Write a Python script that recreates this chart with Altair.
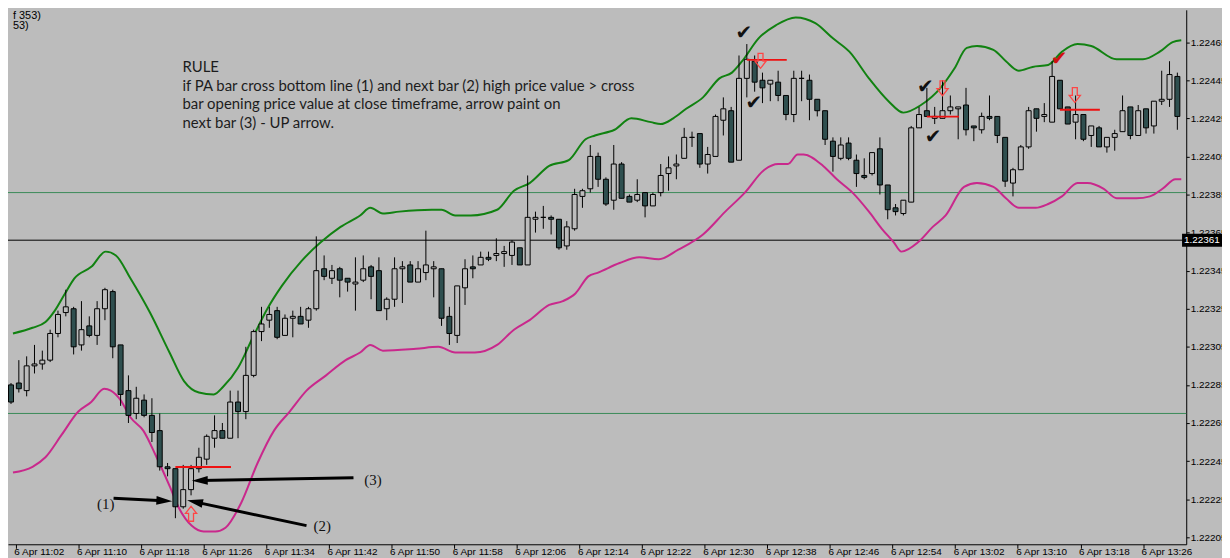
import math
import altair as alt
import pandas as pd

# ---------------- data (prices in points, 1 point = 0.00001) ----------------
candle_index = list(range(-1, 149))  # minutes after 11:02 (0 = 11:02)

open_pts = [
    122285, 122286, 122282, 122295, 122296, 122298, 122312, 122323, 122325, 122306,
    122316, 122311, 122325, 122334, 122306, 122282, 122270, 122277, 122269, 122261,
    122242, 122241, 122221, 122230, 122241, 122246, 122257, 122261, 122257, 122276,
    122271, 122290, 122313, 122319, 122324, 122311, 122320, 122321, 122319, 122325,
    122346, 122341, 122346, 122341, 122338, 122340, 122347, 122345, 122325, 122330,
    122346, 122348, 122339, 122344, 122346, 122346, 122321, 122311, 122336, 122347,
    122348, 122352, 122353, 122354, 122353, 122357, 122348, 122372, 122373, 122373,
    122372, 122358, 122367, 122384, 122388, 122405, 122393, 122382, 122401, 122384,
    122382, 122386, 122379, 122386, 122396, 122400, 122404, 122415, 122417, 122401,
    122405, 122424, 122429, 122403, 122446, 122455, 122445, 122443, 122444, 122437,
    122427, 122446, 122445, 122435, 122429, 122413, 122404, 122412, 122403, 122395,
    122396, 122409, 122390, 122378, 122375, 122381, 122420, 122429, 122425, 122425,
    122429, 122430, 122432, 122421, 122419, 122426, 122426, 122415, 122391, 122398,
    122410, 122430, 122426, 122423, 122445, 122431, 122423, 122427, 122416, 122420,
    122410, 122415, 122418, 122431, 122416, 122430, 122421, 122434, 122435, 122447,
]
high_pts = [
    122286, 122298, 122300, 122306, 122303, 122314, 122324, 122335, 122326, 122329,
    122321, 122329, 122336, 122335, 122306, 122290, 122284, 122280, 122278, 122270,
    122244, 122241, 122243, 122243, 122252, 122259, 122269, 122265, 122282, 122282,
    122305, 122314, 122326, 122326, 122326, 122322, 122324, 122326, 122326, 122363,
    122353, 122348, 122347, 122341, 122352, 122353, 122348, 122352, 122331, 122352,
    122350, 122350, 122350, 122366, 122350, 122346, 122326, 122337, 122351, 122353,
    122355, 122355, 122362, 122358, 122361, 122357, 122395, 122376, 122379, 122374,
    122372, 122371, 122388, 122388, 122411, 122407, 122394, 122411, 122402, 122385,
    122393, 122386, 122386, 122401, 122405, 122406, 122420, 122418, 122417, 122410,
    122427, 122436, 122431, 122458, 122464, 122458, 122449, 122445, 122450, 122437,
    122450, 122450, 122448, 122435, 122429, 122415, 122415, 122415, 122406, 122404,
    122407, 122415, 122390, 122380, 122382, 122421, 122431, 122441, 122431, 122445,
    122437, 122431, 122441, 122421, 122428, 122437, 122426, 122415, 122399, 122411,
    122431, 122430, 122433, 122455, 122445, 122431, 122437, 122427, 122421, 122421,
    122415, 122419, 122437, 122431, 122432, 122430, 122434, 122450, 122455, 122449,
]
low_pts = [
    122275, 122281, 122279, 122291, 122293, 122297, 122310, 122321, 122301, 122303,
    122310, 122306, 122319, 122299, 122274, 122265, 122267, 122268, 122255, 122240,
    122237, 122215, 122220, 122227, 122239, 122243, 122252, 122257, 122257, 122257,
    122267, 122289, 122308, 122315, 122309, 122311, 122310, 122317, 122315, 122324,
    122340, 122338, 122331, 122334, 122324, 122339, 122330, 122324, 122319, 122326,
    122328, 122339, 122339, 122340, 122331, 122316, 122306, 122307, 122327, 122341,
    122348, 122350, 122350, 122347, 122348, 122348, 122348, 122365, 122367, 122364,
    122356, 122356, 122366, 122378, 122386, 122389, 122379, 122377, 122383, 122381,
    122381, 122373, 122379, 122384, 122387, 122393, 122404, 122410, 122399, 122396,
    122405, 122416, 122402, 122403, 122436, 122439, 122433, 122434, 122434, 122424,
    122423, 122434, 122424, 122426, 122411, 122397, 122403, 122403, 122389, 122393,
    122395, 122385, 122372, 122374, 122374, 122381, 122420, 122426, 122422, 122425,
    122427, 122414, 122416, 122413, 122417, 122424, 122412, 122389, 122384, 122398,
    122409, 122418, 122423, 122423, 122430, 122422, 122414, 122413, 122410, 122410,
    122407, 122408, 122418, 122414, 122416, 122417, 122417, 122432, 122431, 122419,
]
close_pts = [
    122276, 122283, 122295, 122296, 122298, 122312, 122322, 122326, 122305, 122314,
    122311, 122325, 122335, 122305, 122280, 122269, 122278, 122269, 122260, 122242,
    122241, 122221, 122230, 122241, 122247, 122258, 122261, 122257, 122276, 122271,
    122290, 122313, 122317, 122322, 122310, 122320, 122321, 122317, 122325, 122345,
    122342, 122345, 122340, 122339, 122339, 122346, 122342, 122324, 122330, 122346,
    122347, 122339, 122346, 122348, 122347, 122320, 122312, 122337, 122346, 122346,
    122352, 122351, 122354, 122355, 122360, 122348, 122373, 122373, 122373, 122372,
    122357, 122368, 122385, 122387, 122405, 122393, 122380, 122401, 122383, 122381,
    122385, 122379, 122385, 122395, 122399, 122401, 122415, 122415, 122401, 122406,
    122426, 122430, 122402, 122446, 122456, 122444, 122441, 122445, 122437, 122427,
    122446, 122446, 122435, 122429, 122414, 122405, 122411, 122404, 122396, 122394,
    122407, 122390, 122377, 122376, 122382, 122420, 122427, 122426, 122426, 122429,
    122431, 122431, 122419, 122420, 122426, 122425, 122416, 122392, 122398, 122410,
    122429, 122425, 122427, 122447, 122430, 122422, 122427, 122414, 122421, 122410,
    122415, 122417, 122429, 122416, 122429, 122420, 122434, 122435, 122448, 122426,
]

# envelope lines read at sample positions
upper_x = [-0.75, 1.75, 3.4, 4.6, 5.9, 7.1, 9.25, 11.1, 12.4, 14.25, 16.75, 19.25, 21.1, 23, 24.9,
           26.1, 28, 29.9, 31.75, 33.6, 36.1, 38.6, 41.1, 43.6, 44.9, 46.5, 48.6, 52.75, 54, 55.75,
           57.75, 61.1, 63.25, 65.25, 67.75, 70.25, 72.4, 73.6, 76.1, 78.25, 80.75, 82, 83.6, 85.25,
           87.4, 89.5, 91.1, 92.4, 94.5, 96.75, 99.25, 101.75, 104, 106.1, 108.6, 111.1, 113, 115.25,
           117.75, 119.5, 121.1, 122.4, 124.5, 126.1, 127.75, 129.5, 131.5, 133.25, 135.25, 137,
           140.25, 143.6, 145.75, 147.4, 148.5]
upper_pts = [122312, 122315, 122318, 122324, 122333, 122341, 122347, 122355, 122353, 122341, 122323,
             122302, 122287, 122281, 122280, 122284, 122294, 122310, 122325, 122337, 122350, 122360,
             122368, 122374, 122378, 122375, 122376, 122377, 122377, 122374, 122374, 122377, 122387,
             122391, 122400, 122403, 122414, 122416, 122419, 122425, 122423, 122422, 122425, 122430,
             122436, 122446, 122449, 122455, 122467, 122474, 122478, 122475, 122467, 122460, 122446,
             122434, 122428, 122432, 122441, 122451, 122462, 122463, 122461, 122455, 122450, 122452,
             122453, 122460, 122464, 122463, 122456, 122456, 122460, 122465, 122466]
lower_x = [-0.75, 1.75, 3.4, 5.5, 7.6, 9.25, 10.9, 11.75, 13, 14.25, 15.9, 17.6, 19.25, 20.5, 22.1,
           23.6, 25.1, 26.4, 28.4, 30.5, 32.6, 34.6, 36.75, 39.25, 41.75, 43.6, 44.9, 46.5, 50.75,
           53.6, 55.75, 58.25, 61.1, 63.25, 65.25, 67.75, 69.5, 71.1, 72.75, 74, 76.75, 79.25, 81.75,
           84.25, 87.4, 90.25, 92.75, 95.25, 97, 98.25, 99.5, 100.25, 102.75, 104.5, 106.5, 108.6,
           110.25, 111.75, 112.75, 114.9, 116.75, 118.4, 120.75, 122.4, 124.5, 126.1, 127.75, 129.9,
           131.5, 133.25, 135.25, 136.5, 138.6, 140.25, 142.75, 144.5, 146.1, 147.75, 148.5]
lower_pts = [122239, 122242, 122247, 122259, 122271, 122276, 122283, 122282, 122277, 122268, 122261,
             122247, 122232, 122220, 122211, 122208, 122208, 122210, 122223, 122244, 122261, 122271,
             122282, 122290, 122298, 122302, 122306, 122303, 122304, 122305, 122302, 122302, 122306,
             122314, 122319, 122327, 122329, 122333, 122342, 122344, 122349, 122352, 122351, 122356,
             122364, 122376, 122386, 122398, 122401, 122401, 122406, 122406, 122400, 122393, 122386,
             122376, 122367, 122360, 122355, 122360, 122368, 122374, 122389, 122391, 122389, 122383,
             122378, 122378, 122380, 122384, 122391, 122391, 122388, 122383, 122383, 122384, 122388,
             122393, 122393]

tick_index = [0, 8, 16, 24, 32, 40, 48, 56, 64, 72, 80, 88, 96, 104, 112, 120, 128, 136, 144]
tick_labels = ["6 Apr 11:02", "6 Apr 11:10", "6 Apr 11:18", "6 Apr 11:26", "6 Apr 11:34",
               "6 Apr 11:42", "6 Apr 11:50", "6 Apr 11:58", "6 Apr 12:06", "6 Apr 12:14",
               "6 Apr 12:22", "6 Apr 12:30", "6 Apr 12:38", "6 Apr 12:46", "6 Apr 12:54",
               "6 Apr 13:02", "6 Apr 13:10", "6 Apr 13:18", "6 Apr 13:26"]
price_ticks = [1.22205, 1.22225, 1.22245, 1.22265, 1.22285, 1.22305, 1.22325, 1.22345,
               1.22365, 1.22385, 1.22405, 1.22425, 1.22445, 1.22465]

hline_values = [1.22386, 1.22270, 1.22361]
hline_colors = ["#3a8a58", "#3a8a58", "#000000"]
price_tag_value = 1.22361
price_tag_text = "1.22361"

signal_x1 = [20, 93, 116, 133]
signal_x2 = [27.1, 98.1, 120.1, 138.1]
signal_y = [1.222419, 1.224557, 1.224259, 1.224295]

hollow_x = [22, 94.75, 118, 134.9]
hollow_y = [1.222173, 1.224552, 1.224408, 1.224372]
hollow_dir = ["up", "down", "down", "down"]

check_x = [92.6, 93.9, 115.8, 116.8, 132.9]
check_y = [1.224696, 1.224331, 1.224414, 1.224151, 1.224563]
check_color = ["#111111", "#111111", "#111111", "#111111", "#d01010"]

num_text = ["(1)", "(2)", "(3)"]
num_x = [11.1, 38.75, 45.25]
num_y = [1.222224, 1.222111, 1.222352]

arrow_from_x = [12.1, 36.75, 42.75]
arrow_from_y = [1.222255, 1.222111, 1.222363]
arrow_to_x = [19.6, 21.5, 22.1]
arrow_to_y = [1.222239, 1.222244, 1.222347]

rule_lines = ["RULE",
              "if PA bar cross bottom line (1) and next bar (2) high price value > cross",
              "bar opening price value at close timeframe, arrow paint on",
              "next bar (3) - UP arrow."]
rule_x = 20.9
rule_y = [1.224522, 1.224421, 1.224326, 1.224223]

corner_text = ["f 353)", "53)"]
corner_y = [1.224789, 1.224737]

# ---------------- layout ----------------
BG = "#bcbcbc"
X_DOM = [-0.75, 148.5]
Y_DOM = [1.222013, 1.224820]
W, H = 1186, 538
px_i = W / (X_DOM[1] - X_DOM[0])
px_p = H / (Y_DOM[1] - Y_DOM[0])

xs = alt.Scale(domain=X_DOM, nice=False, zero=False)
ys = alt.Scale(domain=Y_DOM, nice=False, zero=False)

label_expr = "[" + ",".join("'%s'" % t for t in tick_labels) + "][round(datum.value / 8)]"
x_axis = alt.Axis(values=tick_index, labelExpr=label_expr, title=None, grid=False,
                  tickSize=4, labelAlign="left", labelPadding=-2, tickOffset=-3,
                  labelOffset=-2, labelFontSize=10, labelFont="Liberation Sans",
                  labelOverlap=False, labelBound=False)
y_axis = alt.Axis(orient="right", values=price_ticks, format=".5f", title=None, grid=False,
                  tickSize=3, labelPadding=1, labelFontSize=10, labelFont="Liberation Sans",
                  labelOverlap=False)


def X(f):
    return alt.X(f, type="quantitative", scale=xs, axis=x_axis, title=None)


def Y(f):
    return alt.Y(f, type="quantitative", scale=ys, axis=y_axis, title=None)


cdf = pd.DataFrame({
    "i": candle_index,
    "open": [v / 1e5 for v in open_pts],
    "high": [v / 1e5 for v in high_pts],
    "low": [v / 1e5 for v in low_pts],
    "close": [v / 1e5 for v in close_pts],
})
assert len(open_pts) == len(high_pts) == len(low_pts) == len(close_pts) == len(candle_index)
cdf["top"] = cdf[["open", "close"]].max(axis=1)
cdf["bot"] = cdf[["open", "close"]].min(axis=1)
cdf["fillc"] = ["#2f4f4f" if c < o else BG for o, c in zip(cdf["open"], cdf["close"])]

hdf = pd.DataFrame({"v": hline_values, "c": hline_colors})
hlines = alt.Chart(hdf).mark_rule(strokeWidth=1).encode(
    y=Y("v"), color=alt.Color("c:N", scale=None))

up_df = pd.DataFrame({"i": upper_x, "p": [v / 1e5 for v in upper_pts]})
lo_df = pd.DataFrame({"i": lower_x, "p": [v / 1e5 for v in lower_pts]})
upper = alt.Chart(up_df).mark_line(clip=True, strokeWidth=2, color="#118211",
                                   interpolate="monotone").encode(x=X("i"), y=Y("p"))
lower = alt.Chart(lo_df).mark_line(clip=True, strokeWidth=2, color="#c9288c",
                                   interpolate="monotone").encode(x=X("i"), y=Y("p"))

wicks = alt.Chart(cdf).mark_rule(clip=True, color="#000000", strokeWidth=1).encode(
    x=X("i"), y=Y("low"), y2="high")
bodies = alt.Chart(cdf).mark_bar(clip=True, size=5, stroke="#000000", strokeWidth=1,
                                 orient="vertical").encode(
    x=X("i"), y=Y("bot"), y2="top", fill=alt.Fill("fillc:N", scale=None))

sdf = pd.DataFrame({"x1": signal_x1, "x2": signal_x2, "y": signal_y})
signals = alt.Chart(sdf).mark_rule(color="#ee1111", strokeWidth=2).encode(
    x=X("x1"), x2="x2", y=Y("y"))

# black pointer arrows
rows = []
for x1, y1, x2, y2 in zip(arrow_from_x, arrow_from_y, arrow_to_x, arrow_to_y):
    dx = (x2 - x1) * px_i
    dy = -(y2 - y1) * px_p
    ang = math.degrees(math.atan2(dx, -dy)) % 360
    L = math.hypot(dx, dy)
    k = (L - 9) / L
    rows.append({"x1": x1, "y1": y1, "xe": x1 + (x2 - x1) * k, "ye": y1 + (y2 - y1) * k,
                 "x2": x2, "y2": y2, "ang": ang})
adf = pd.DataFrame(rows)
arrow_lines = alt.Chart(adf).mark_rule(color="#000000", strokeWidth=3).encode(
    x=X("x1"), x2="xe", y=Y("y1"), y2="ye")
arrow_heads = alt.Chart(adf).mark_point(
    shape="M0,0 L0.55,2 L-0.55,2 Z", size=256, filled=True, color="#000000",
    opacity=1, strokeWidth=0).encode(
    x=X("x2"), y=Y("y2"), angle=alt.Angle("ang:Q", scale=None))

hol_df = pd.DataFrame({"x": hollow_x, "y": hollow_y,
                       "ang": [180 if d == "up" else 0 for d in hollow_dir]})
hollow = alt.Chart(hol_df).mark_point(
    shape="M-0.33,-1 L0.33,-1 L0.33,0.05 L0.75,0.05 L0,1 L-0.75,0.05 L-0.33,0.05 Z",
    size=225, filled=False, color="#ff4545", strokeWidth=1.3, opacity=1).encode(
    x=X("x"), y=Y("y"), angle=alt.Angle("ang:Q", scale=None))

chk_df = pd.DataFrame({"x": check_x, "y": check_y, "c": check_color})
checks = alt.Chart(chk_df).mark_text(text="\u2714", font="DejaVu Sans", fontSize=20,
                                     baseline="middle", align="center").encode(
    x=X("x"), y=Y("y"), color=alt.Color("c:N", scale=None))

num_df = pd.DataFrame({"x": num_x, "y": num_y, "t": num_text})
nums = alt.Chart(num_df).mark_text(font="Liberation Serif", fontSize=15, color="#111111",
                                   baseline="middle", align="center").encode(
    x=X("x"), y=Y("y"), text="t:N")

rule_df = pd.DataFrame({"x": [rule_x] * len(rule_lines), "y": rule_y, "t": rule_lines})
rule_text = alt.Chart(rule_df).mark_text(font="Lato", fontSize=15, color="#1c1c1c",
                                         baseline="middle", align="left").encode(
    x=X("x"), y=Y("y"), text="t:N")

corner_df = pd.DataFrame({"x": [X_DOM[0]] * 2, "y": corner_y, "t": corner_text})
corner = alt.Chart(corner_df).mark_text(font="Liberation Sans", fontSize=11, color="#000000",
                                        baseline="middle", align="left").encode(
    x=X("x"), y=Y("y"), text="t:N")

tag_df = pd.DataFrame({"x1": [148.6], "x2": [154.5], "y1": [price_tag_value - 0.000034],
                       "y2": [price_tag_value + 0.000034], "xt": [148.85],
                       "v": [price_tag_value], "t": [price_tag_text]})
tag_box = alt.Chart(tag_df).mark_rect(color="#000000", clip=False).encode(
    x=X("x1"), x2="x2", y=Y("y1"), y2="y2")
tag_txt = alt.Chart(tag_df).mark_text(color="#ffffff", font="Liberation Sans", fontSize=10,
                                      align="left", baseline="middle", clip=False).encode(
    x=X("xt"), y=Y("v"), text="t:N")

chart = alt.layer(
    hlines, upper, lower, wicks, bodies, signals, arrow_lines, arrow_heads,
    hollow, checks, nums, rule_text, corner, tag_box, tag_txt
).properties(
    width=W, height=H,
    autosize=alt.AutoSizeParams(type="none"),
    padding={"left": 0, "top": 0, "right": 36, "bottom": 12},
).configure(background=BG).configure_view(strokeWidth=0).configure_axis(
    domainColor="#000000", tickColor="#000000", labelColor="#000000", domainWidth=1
)

chart.save("out.html", embed_options={"renderer": "svg", "actions": False})
